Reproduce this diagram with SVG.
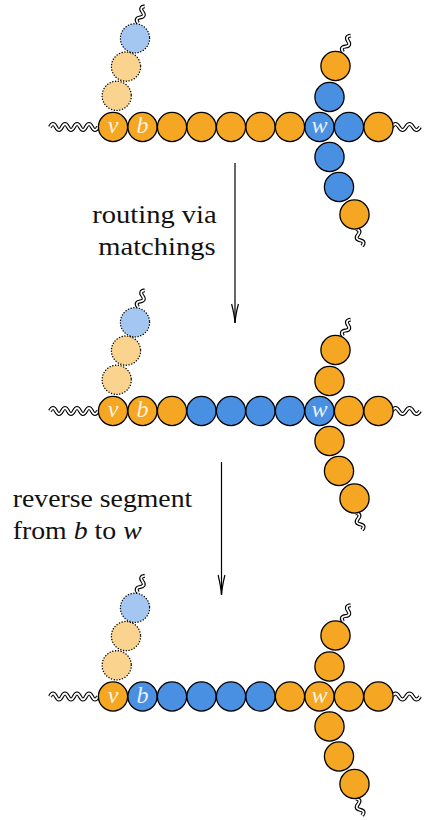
<svg xmlns="http://www.w3.org/2000/svg" xmlns:xlink="http://www.w3.org/1999/xlink" width="430" height="820" viewBox="0 0 430 820">
<style>
.n{stroke:#000;stroke-width:1.3}
.d{stroke:#000;stroke-width:1.4;stroke-dasharray:0.1 2.7;stroke-linecap:round}
.o{fill:#F5A623}
.b{fill:#4A90E2}
.lo{fill:#FAD38F}
.lb{fill:#A3C7F0}
.lbl{font-family:'Liberation Serif',serif;font-style:italic;font-size:24px;fill:#fff;fill-opacity:0.88;text-anchor:middle}
.txt{font-family:'Liberation Serif',serif;font-size:26px;fill:#111}
.wo{fill:none;stroke:#000;stroke-width:4}
.wi{fill:none;stroke:#fff;stroke-width:1.8}
.ar{fill:none;stroke:#000;stroke-width:1.2}
</style>
<defs>
<g id="wl"><path class="wo" d="M50,0 q3,-6 6,0 t6,0 t6,0 t6,0 t6,0 t6,0 t6,0 t6,0"/><path class="wi" d="M50,0 q3,-6 6,0 t6,0 t6,0 t6,0 t6,0 t6,0 t6,0 t6,0"/></g>
<g id="wr"><path class="wo" d="M392,0 q3.5,-6 7,0 t7,0 t7,0 t7,0"/><path class="wi" d="M392,0 q3.5,-6 7,0 t7,0 t7,0 t7,0"/></g>
<g id="ws"><path class="wo" d="M0,0 q-5,-3 0,-6 t0,-6 t0,-6"/><path class="wi" d="M0,0 q-5,-3 0,-6 t0,-6 t0,-6"/></g>
</defs>

<!-- Stage 1 -->
<g id="stage1" transform="translate(0,127)">
<g id="s1-tails">
<use xlink:href="#wl"/>
<use xlink:href="#wr"/>
<use xlink:href="#ws" transform="translate(343,-75) rotate(25)"/>
<use xlink:href="#ws" transform="translate(356,102) rotate(160)"/>
<use xlink:href="#ws" transform="translate(138,-104) rotate(22)"/>
</g>
<g id="s1-p1"><circle class="lo d" cx="116.7" cy="-31.2" r="14.6"/></g>
<g id="s1-p2"><circle class="lo d" cx="126" cy="-60.4" r="14.6"/></g>
<g id="s1-p3"><circle class="lb d" cx="135" cy="-88.7" r="14.6"/></g>
<g id="s1-u1"><circle class="b n" cx="329.5" cy="-30" r="14.6"/></g>
<g id="s1-u2"><circle class="o n" cx="335.5" cy="-61" r="14.6"/></g>
<g id="s1-d1"><circle class="b n" cx="329.5" cy="30" r="14.6"/></g>
<g id="s1-d2"><circle class="b n" cx="339" cy="60" r="14.6"/></g>
<g id="s1-d3"><circle class="o n" cx="354.5" cy="87.5" r="14.6"/></g>
<g id="s1-v"><circle class="o n" cx="113" cy="0" r="14.6"/><text class="lbl" x="113" y="6">v</text></g>
<g id="s1-b"><circle class="o n" cx="142.5" cy="0" r="14.6"/><text class="lbl" x="142.5" y="6">b</text></g>
<g id="s1-m2"><circle class="o n" cx="172" cy="0" r="14.6"/></g>
<g id="s1-m3"><circle class="o n" cx="201.5" cy="0" r="14.6"/></g>
<g id="s1-m4"><circle class="o n" cx="231" cy="0" r="14.6"/></g>
<g id="s1-m5"><circle class="o n" cx="260.5" cy="0" r="14.6"/></g>
<g id="s1-m6"><circle class="o n" cx="290" cy="0" r="14.6"/></g>
<g id="s1-w"><circle class="b n" cx="319.5" cy="0" r="14.6"/><text class="lbl" x="319.5" y="6">w</text></g>
<g id="s1-m8"><circle class="b n" cx="349" cy="0" r="14.6"/></g>
<g id="s1-m9"><circle class="o n" cx="378.5" cy="0" r="14.6"/></g>
</g>

<!-- Stage 2 -->
<g id="stage2" transform="translate(0,411)">
<g id="s2-tails">
<use xlink:href="#wl"/>
<use xlink:href="#wr"/>
<use xlink:href="#ws" transform="translate(343,-75) rotate(25)"/>
<use xlink:href="#ws" transform="translate(356,102) rotate(160)"/>
<use xlink:href="#ws" transform="translate(138,-104) rotate(22)"/>
</g>
<g id="s2-p1"><circle class="lo d" cx="116.7" cy="-31.2" r="14.6"/></g>
<g id="s2-p2"><circle class="lo d" cx="126" cy="-60.4" r="14.6"/></g>
<g id="s2-p3"><circle class="lb d" cx="135" cy="-88.7" r="14.6"/></g>
<g id="s2-u1"><circle class="o n" cx="329.5" cy="-30" r="14.6"/></g>
<g id="s2-u2"><circle class="o n" cx="335.5" cy="-61" r="14.6"/></g>
<g id="s2-d1"><circle class="o n" cx="329.5" cy="30" r="14.6"/></g>
<g id="s2-d2"><circle class="o n" cx="339" cy="60" r="14.6"/></g>
<g id="s2-d3"><circle class="o n" cx="354.5" cy="87.5" r="14.6"/></g>
<g id="s2-v"><circle class="o n" cx="113" cy="0" r="14.6"/><text class="lbl" x="113" y="6">v</text></g>
<g id="s2-b"><circle class="o n" cx="142.5" cy="0" r="14.6"/><text class="lbl" x="142.5" y="6">b</text></g>
<g id="s2-m2"><circle class="o n" cx="172" cy="0" r="14.6"/></g>
<g id="s2-m3"><circle class="b n" cx="201.5" cy="0" r="14.6"/></g>
<g id="s2-m4"><circle class="b n" cx="231" cy="0" r="14.6"/></g>
<g id="s2-m5"><circle class="b n" cx="260.5" cy="0" r="14.6"/></g>
<g id="s2-m6"><circle class="b n" cx="290" cy="0" r="14.6"/></g>
<g id="s2-w"><circle class="b n" cx="319.5" cy="0" r="14.6"/><text class="lbl" x="319.5" y="6">w</text></g>
<g id="s2-m8"><circle class="o n" cx="349" cy="0" r="14.6"/></g>
<g id="s2-m9"><circle class="o n" cx="378.5" cy="0" r="14.6"/></g>
</g>

<!-- Stage 3 -->
<g id="stage3" transform="translate(0,696.5)">
<g id="s3-tails">
<use xlink:href="#wl"/>
<use xlink:href="#wr"/>
<use xlink:href="#ws" transform="translate(343,-75) rotate(25)"/>
<use xlink:href="#ws" transform="translate(356,102) rotate(160)"/>
<use xlink:href="#ws" transform="translate(138,-104) rotate(22)"/>
</g>
<g id="s3-p1"><circle class="lo d" cx="116.7" cy="-31.2" r="14.6"/></g>
<g id="s3-p2"><circle class="lo d" cx="126" cy="-60.4" r="14.6"/></g>
<g id="s3-p3"><circle class="lb d" cx="135" cy="-88.7" r="14.6"/></g>
<g id="s3-u1"><circle class="o n" cx="329.5" cy="-30" r="14.6"/></g>
<g id="s3-u2"><circle class="o n" cx="335.5" cy="-61" r="14.6"/></g>
<g id="s3-d1"><circle class="o n" cx="329.5" cy="30" r="14.6"/></g>
<g id="s3-d2"><circle class="o n" cx="339" cy="60" r="14.6"/></g>
<g id="s3-d3"><circle class="o n" cx="354.5" cy="87.5" r="14.6"/></g>
<g id="s3-v"><circle class="o n" cx="113" cy="0" r="14.6"/><text class="lbl" x="113" y="6">v</text></g>
<g id="s3-b"><circle class="b n" cx="142.5" cy="0" r="14.6"/><text class="lbl" x="142.5" y="6">b</text></g>
<g id="s3-m2"><circle class="b n" cx="172" cy="0" r="14.6"/></g>
<g id="s3-m3"><circle class="b n" cx="201.5" cy="0" r="14.6"/></g>
<g id="s3-m4"><circle class="b n" cx="231" cy="0" r="14.6"/></g>
<g id="s3-m5"><circle class="b n" cx="260.5" cy="0" r="14.6"/></g>
<g id="s3-m6"><circle class="o n" cx="290" cy="0" r="14.6"/></g>
<g id="s3-w"><circle class="o n" cx="319.5" cy="0" r="14.6"/><text class="lbl" x="319.5" y="6">w</text></g>
<g id="s3-m8"><circle class="o n" cx="349" cy="0" r="14.6"/></g>
<g id="s3-m9"><circle class="o n" cx="378.5" cy="0" r="14.6"/></g>
</g>

<!-- Connectors -->
<g id="connectors">
<path class="ar" d="M235,163 V323"/>
<path class="ar" d="M231.6,304 Q234.5,315 235,323 Q235.5,315 238.4,304"/>
<path class="ar" d="M221.5,462 V595"/>
<path class="ar" d="M218.1,575 Q221,587 221.5,595 Q222,587 224.9,575"/>
</g>

<!-- Labels -->
<g id="labels">
<text class="txt" x="92.3" y="223" textLength="124.4" lengthAdjust="spacingAndGlyphs">routing via</text>
<text class="txt" x="98.3" y="255" textLength="117.4" lengthAdjust="spacingAndGlyphs">matchings</text>
<text class="txt" x="12.7" y="506.5" textLength="179.6" lengthAdjust="spacingAndGlyphs">reverse segment</text>
<text class="txt" x="12.7" y="539" textLength="129" lengthAdjust="spacingAndGlyphs">from <tspan font-style="italic">b</tspan> to <tspan font-style="italic">w</tspan></text>
</g>
</svg>
